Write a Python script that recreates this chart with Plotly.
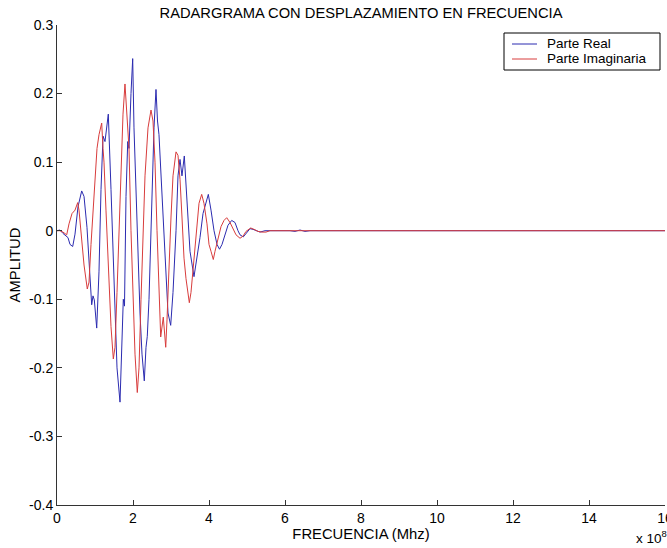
import plotly.graph_objects as go

# Frequency in units of 1e8 (axis shows "x 10^8")
real_freq = [0, 0.079, 0.158, 0.237, 0.289, 0.342, 0.413, 0.474, 0.553, 0.650, 0.711, 0.789,
             0.868, 0.913, 0.947, 0.982, 1.045, 1.105, 1.158, 1.211, 1.263, 1.350, 1.421, 1.500,
             1.579, 1.658, 1.697, 1.745, 1.776, 1.816, 1.861, 1.895, 1.947, 1.992, 2.026, 2.105,
             2.184, 2.237, 2.297, 2.342, 2.376, 2.421, 2.500, 2.553, 2.605, 2.645, 2.684, 2.763,
             2.842, 2.921, 2.992, 3.053, 3.132, 3.184, 3.237, 3.289, 3.350, 3.421, 3.500, 3.605,
             3.684, 3.763, 3.842, 3.895, 3.982, 4.053, 4.132, 4.211, 4.276, 4.342, 4.421, 4.500,
             4.597, 4.684, 4.763, 4.816, 4.903, 5.000, 5.079, 5.158, 5.263, 5.342, 5.474, 5.605,
             5.737, 5.868, 6.132, 6.263, 6.395, 6.526, 6.658, 16]
real_amp = [0, 0.001, -0.004, -0.008, -0.010, -0.020, -0.023, -0.005, 0.035, 0.058, 0.050, 0.005,
            -0.080, -0.108, -0.095, -0.101, -0.142, -0.060, 0.060, 0.138, 0.130, 0.170, 0.060, -0.080,
            -0.200, -0.250, -0.180, -0.100, -0.110, 0.050, 0.130, 0.120, 0.200, 0.251, 0.150, 0.000,
            -0.120, -0.180, -0.219, -0.170, -0.154, -0.100, 0.050, 0.150, 0.206, 0.160, 0.140, 0.050,
            -0.050, -0.120, -0.138, -0.090, 0.000, 0.080, 0.104, 0.080, 0.109, 0.040, -0.030, -0.067,
            -0.040, -0.010, 0.025, 0.035, 0.053, 0.030, 0.000, -0.020, -0.027, -0.020, -0.005, 0.008,
            0.015, 0.012, 0.000, -0.006, -0.009, -0.003, 0.003, 0.002, 0.000, -0.002, 0.000, 0.000,
            0.001, 0.000, 0.000, -0.001, 0.001, -0.001, 0.000, 0.000]

imag_freq = [0, 0.079, 0.158, 0.255, 0.316, 0.395, 0.474, 0.545, 0.579, 0.632, 0.711, 0.797,
             0.842, 0.895, 0.974, 1.053, 1.105, 1.176, 1.211, 1.237, 1.289, 1.368, 1.421, 1.482,
             1.526, 1.579, 1.632, 1.684, 1.737, 1.789, 1.842, 1.895, 1.947, 2.000, 2.053, 2.113,
             2.158, 2.211, 2.263, 2.316, 2.395, 2.474, 2.526, 2.579, 2.632, 2.684, 2.729, 2.797,
             2.861, 2.895, 2.947, 3.000, 3.053, 3.132, 3.184, 3.237, 3.289, 3.342, 3.395, 3.482,
             3.526, 3.605, 3.684, 3.737, 3.808, 3.868, 3.947, 4.000, 4.053, 4.113, 4.158, 4.237,
             4.316, 4.395, 4.466, 4.553, 4.632, 4.711, 4.816, 4.895, 4.974, 5.097, 5.184, 5.289,
             5.395, 5.500, 5.605, 16]
imag_amp = [0, 0.000, -0.002, -0.006, 0.010, 0.025, 0.030, 0.041, 0.030, 0.000, -0.050, -0.085,
            -0.075, -0.020, 0.060, 0.120, 0.140, 0.157, 0.120, 0.100, 0.030, -0.080, -0.140, -0.187,
            -0.170, -0.090, 0.000, 0.100, 0.170, 0.214, 0.170, 0.120, 0.000, -0.100, -0.180, -0.236,
            -0.200, -0.100, 0.000, 0.080, 0.150, 0.176, 0.160, 0.100, 0.000, -0.100, -0.155, -0.126,
            -0.170, -0.130, -0.050, 0.020, 0.080, 0.115, 0.110, 0.075, 0.020, -0.040, -0.070, -0.105,
            -0.090, -0.040, 0.010, 0.040, 0.053, 0.040, 0.010, -0.020, -0.030, -0.042, -0.030, -0.010,
            0.006, 0.015, 0.019, 0.012, 0.003, -0.006, -0.011, -0.008, -0.001, 0.004, 0.002, -0.001,
            -0.002, -0.002, 0.000, 0.000]

series_names = ["Parte Real", "Parte Imaginaria"]
series_colors = ["#2b2bb0", "#d83c3c"]

x_ticks = [0, 2, 4, 6, 8, 10, 12, 14, 16]
y_ticks = [0.3, 0.2, 0.1, 0, -0.1, -0.2, -0.3, -0.4]
y_ticktext = ["0.3", "0.2", "0.1", "0", "-0.1", "-0.2", "-0.3", "-0.4"]

FONT = "Liberation Sans, Arial, sans-serif"

# plot-area geometry in pixels (for paper-coordinate conversion of legend pieces)
W, H = 667, 548
L, R, T, B = 57, 2, 25, 43
PW, PH = W - L - R, H - T - B


def px_x(px):
    return (px - L) / PW


def px_y(py):
    return (H - B - py) / PH


fig = go.Figure()
fig.add_trace(go.Scatter(x=real_freq, y=real_amp, mode="lines", name=series_names[0],
                         line=dict(color=series_colors[0], width=1), showlegend=False))
fig.add_trace(go.Scatter(x=imag_freq, y=imag_amp, mode="lines", name=series_names[1],
                         line=dict(color=series_colors[1], width=1), showlegend=False))

# legend box drawn like MATLAB's
shapes = [dict(type="rect", xref="paper", yref="paper",
               x0=px_x(504), x1=px_x(660), y0=px_y(70), y1=px_y(33),
               line=dict(color="black", width=1), fillcolor="white", layer="above")]
annotations = []
for i, (nm, col) in enumerate(zip(series_names, series_colors)):
    yy = px_y(44 + 15 * i)
    shapes.append(dict(type="line", xref="paper", yref="paper",
                       x0=px_x(512), x1=px_x(537), y0=yy, y1=yy,
                       line=dict(color=col, width=1), layer="above"))
    annotations.append(dict(text=nm, xref="paper", yref="paper", x=px_x(545), y=yy,
                            xanchor="left", yanchor="middle", showarrow=False,
                            font=dict(family=FONT, size=13.5, color="black")))

annotations.append(dict(text="x 10<sup>8</sup>", xref="paper", yref="paper",
                        x=px_x(669), y=px_y(548), xanchor="right", yanchor="bottom",
                        showarrow=False, font=dict(family=FONT, size=13.5, color="black")))

fig.update_layout(
    width=W, height=H,
    margin=dict(l=L, r=R, t=T, b=B, autoexpand=False),
    paper_bgcolor="white", plot_bgcolor="white",
    font=dict(family=FONT, size=14, color="black"),
    title=dict(text="RADARGRAMA CON DESPLAZAMIENTO EN FRECUENCIA",
               x=(L + W - R) / 2 / W, xanchor="center", y=1 - 13 / H, yanchor="middle",
               font=dict(family=FONT, size=14.7, color="black")),
    showlegend=False,
    xaxis=dict(range=[0, 16], tickvals=x_ticks, ticktext=[str(v) for v in x_ticks],
               showgrid=False, zeroline=False, showline=True, linecolor="#333",
               linewidth=1, ticks="inside", ticklen=5, tickcolor="#333",
               ticklabeloverflow="allow", automargin=False,
               tickfont=dict(family=FONT, size=14, color="black"),
               title=dict(text="FRECUENCIA (Mhz)", standoff=2,
                          font=dict(family=FONT, size=14.8, color="black"))),
    yaxis=dict(range=[-0.4, 0.3], tickvals=y_ticks, ticktext=y_ticktext,
               showgrid=False, zeroline=False, showline=True, linecolor="#333",
               linewidth=1, ticks="inside", ticklen=5, tickcolor="#333",
               automargin=False,
               tickfont=dict(family=FONT, size=14, color="black"),
               title=dict(text="AMPLITUD", standoff=4,
                          font=dict(family=FONT, size=14.8, color="black"))),
    shapes=shapes,
    annotations=annotations,
)

fig.write_html("out.html")
